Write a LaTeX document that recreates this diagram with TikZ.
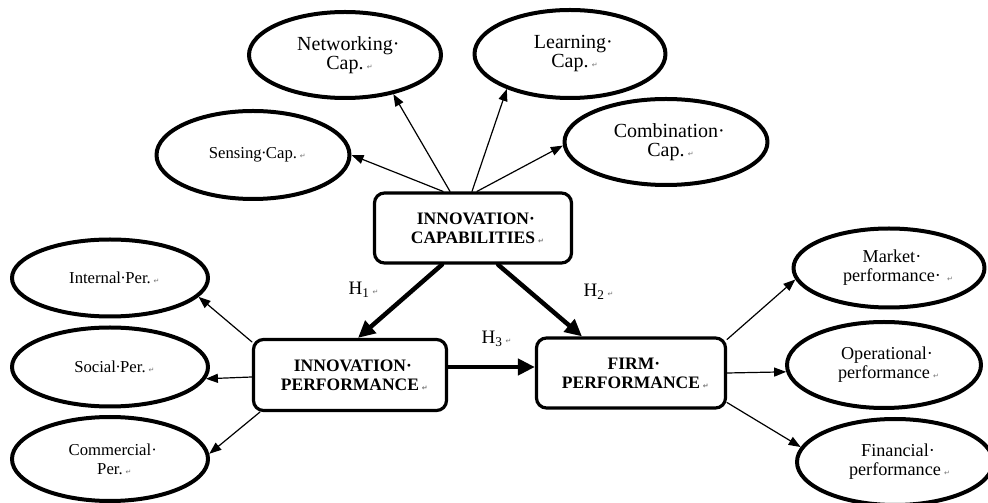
\documentclass[tikz,border=0pt]{standalone}
\usepackage{fontspec}
\setmainfont{Liberation Serif}
\newfontfamily\retfont{DejaVu Sans}
\usepackage{xcolor}
\usepackage{tikz}
\usetikzlibrary{shapes.geometric,arrows.meta}

% dấu cách / dấu xuống dòng như bản Word
\newcommand\spdot{\makebox[0.25em]{·}}
\newcommand\tdot{\rlap{·}}
\newcommand\retmark{\rlap{\,{\retfont\fontsize{7}{7}\selectfont\color{black!55}↵}}}

\begin{document}
\begin{tikzpicture}[x=1pt,y=1pt, line cap=round, line join=round]
	% ===== khung hình =====
	\useasboundingbox (0,0) rectangle (988,503);
	
	% ===== style =====
	\tikzset{
		oval/.style={draw, ellipse, line width=4pt, inner sep=0pt, align=center},
		topf/.style={font=\fontsize{20}{19}\selectfont},
		leftf/.style={font=\fontsize{16.7}{19}\selectfont},
		rightf/.style={font=\fontsize{18.2}{19}\selectfont},
		box/.style={draw, rectangle, rounded corners=10pt, line width=3.2pt, inner sep=0pt, align=center, font=\bfseries\fontsize{17.5}{19}\selectfont},
		hlab/.style={font=\fontsize{19}{19}\selectfont},
		thinarr/.style={-{Triangle[length=12pt,width=9pt]}, line width=1.2pt},
		thickarr/.style={-{Triangle[length=17pt,width=16pt]}, line width=4.5pt}
	}
	
	% ===== ba khối chính =====
	\node[box, minimum width=197pt, minimum height=70pt] (cap) at (473,275) {INNOVATION\tdot\\CAPABILITIES\retmark};
	\node[box, minimum width=193pt, minimum height=71pt] (inper) at (350,128) {INNOVATION\tdot\\PERFORMANCE\retmark};
	\node[box, minimum width=189pt, minimum height=70pt] (firm) at (631,130) {FIRM\tdot\\PERFORMANCE\retmark};
	
	% ===== ellipse phía trên =====
	\node[oval, topf, minimum width=192pt, minimum height=86pt] (net) at (345,448) {Networking\tdot\\Cap.\retmark};
	\node[oval, topf, minimum width=191pt, minimum height=88pt] (learn) at (570,449) {Learning\tdot\\Cap.\retmark};
	\node[oval, leftf, minimum width=193pt, minimum height=88pt] (sens) at (253,348) {Sensing\spdot Cap.\retmark};
	\node[oval, topf, minimum width=203pt, minimum height=86pt] (comb) at (666,361) {Combination\tdot\\Cap.\retmark};
	
	% ===== ellipse bên trái =====
	\node[oval, leftf, minimum width=196pt, minimum height=77pt] (intl) at (110,225) {Internal\spdot Per.\retmark};
	\node[oval, leftf, minimum width=196pt, minimum height=79pt] (soc) at (110,136) {Social\spdot Per.\retmark};
	\node[oval, leftf, minimum width=196pt, minimum height=84pt] (comm) at (110,44) {Commercial\tdot\\Per.\retmark};
	
	% ===== ellipse bên phải =====
	\node[oval, rightf, minimum width=191pt, minimum height=79pt] (mkt) at (889,235) {Market\tdot\\performance\rlap{·\,\retmark}};
	\node[oval, rightf, minimum width=194pt, minimum height=86pt] (oper) at (884,138) {Operational\tdot\\performance\retmark};
	\node[oval, rightf, minimum width=196pt, minimum height=86pt] (fin) at (895,41) {Financial\tdot\\performance\retmark};
	
	% ===== mũi tên mảnh =====
	\draw[thinarr] ([xshift=-30pt]cap.north) -- (sens.east);
	\draw[thinarr] ([xshift=-23pt]cap.north) -- (net.-39);
	\draw[thinarr] ([xshift=-1pt]cap.north) -- (learn.209);
	\draw[thinarr] ([xshift=4pt]cap.north) -- (comb.182);
	
	\draw[thinarr] ([yshift=-4pt]inper.north west) -- (intl.-12);
	\draw[thinarr] ([yshift=-2pt]inper.west) -- (soc.-7);
	\draw[thinarr] ([xshift=8pt]inper.south west) -- (comm.3);
	
	\draw[thinarr] ([yshift=-3pt]firm.north east) -- (mkt.187);
	\draw[thinarr] (firm.east) -- (oper.184);
	\draw[thinarr] ([yshift=7pt]firm.south east) -- (fin.171);
	
	% ===== giả thuyết H1, H2, H3 =====
	\draw[thickarr] ([xshift=-31pt]cap.south) -- ([xshift=8pt]inper.north);
	\draw[thickarr] ([xshift=25pt]cap.south) -- ([xshift=-49pt]firm.north);
	\draw[thickarr] ([yshift=8pt]inper.east) -- ([yshift=6pt]firm.west);
	
	\node[hlab] (h1) at (359,213) {H\textsubscript{1}\retmark};
	\node[hlab] (h2) at (594,211) {H\textsubscript{2}\retmark};
	\node[hlab] (h3) at (492,164) {H\textsubscript{3}\retmark};
\end{tikzpicture}
\end{document}
